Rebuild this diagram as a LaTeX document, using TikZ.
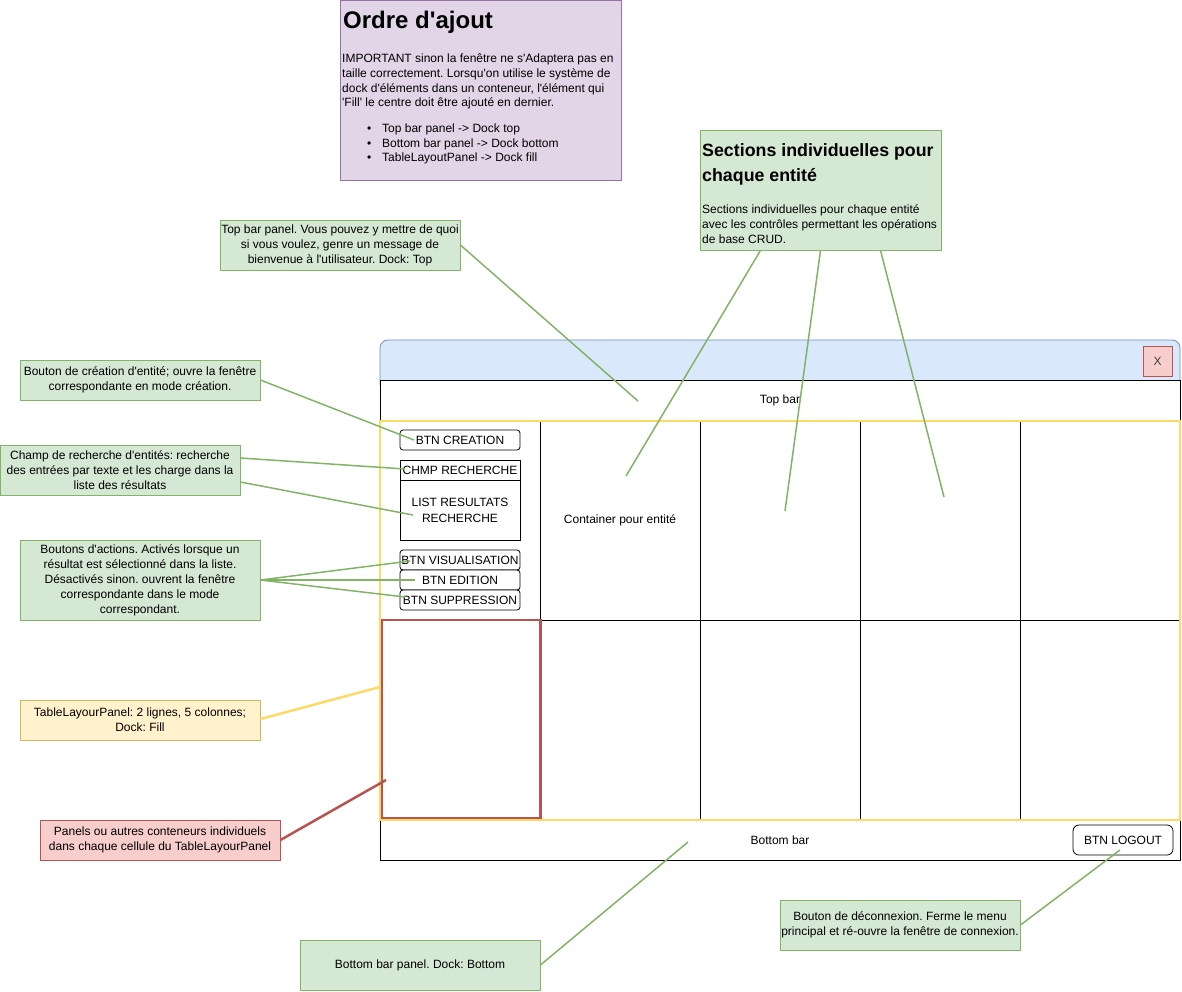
\documentclass[tikz,border=0pt]{standalone}
\usepackage{fontspec}
\setmainfont{Liberation Sans}[Ligatures=TeXOff]
\frenchspacing
\definecolor{gF}{HTML}{D5E8D4}\definecolor{gS}{HTML}{82B366}
\definecolor{pF}{HTML}{E1D5E7}\definecolor{pS}{HTML}{9673A6}
\definecolor{yF}{HTML}{FFF2CC}\definecolor{yS}{HTML}{D6B656}
\definecolor{rF}{HTML}{F8CECC}\definecolor{rS}{HTML}{B85450}
\definecolor{bF}{HTML}{DAE8FC}\definecolor{bS}{HTML}{6C8EBF}
\definecolor{tY}{HTML}{FFD966}
\begin{document}
\frenchspacing
\begin{tikzpicture}[x=1pt,y=-1pt,font=\fontsize{12}{15}\selectfont,
  note/.style={draw=gS,fill=gF,align=center,inner sep=0pt,line width=0.8pt},
  ynote/.style={note,draw=yS,fill=yF},
  rnote/.style={note,draw=rS,fill=rF},
  conn/.style={draw=gS,line width=1.5pt},
  btn/.style={draw=black,fill=white,rounded corners=3pt,minimum width=120pt,minimum height=20pt,inner sep=0pt,line width=0.8pt},
  plainbox/.style={draw=black,fill=white,minimum width=120pt,inner sep=0pt,line width=0.8pt,align=center},
  lbl/.style={inner sep=0pt}
]
\useasboundingbox (0,0) rectangle (1182,991);

% ---------- purple note ----------
\node[draw=pS,fill=pF,line width=0.8pt,minimum width=281pt,minimum height=180pt,inner sep=0pt] (ordBox) at (480.5,90.5) {};
\node[lbl,anchor=base west,font=\bfseries\fontsize{24}{29}\selectfont] (ordTitle) at (343,28) {Ordre d'ajout};
\node[lbl,anchor=north west,align=left,font=\fontsize{12}{14.7}\selectfont] (ordBody) at (342,51.5)
 {\rule{0pt}{11pt}IMPORTANT sinon la fenêtre ne s'Adaptera pas en\\taille correctement. Lorsqu'on utilise le système de\\dock d'éléments dans un conteneur, l'élément qui\\'Fill' le centre doit être ajouté en dernier.};
\node[lbl,anchor=north west,align=left,font=\fontsize{12}{14.5}\selectfont] (ordList) at (367,121.5)
 {\rule{0pt}{11pt}\makebox[15pt][l]{\textbullet}Top bar panel -> Dock top\\\makebox[15pt][l]{\textbullet}Bottom bar panel -> Dock bottom\\\makebox[15pt][l]{\textbullet}TableLayoutPanel -> Dock fill};

% ---------- sections note ----------
\node[note,minimum width=241pt,minimum height=120pt] (nSec) at (820.5,190) {};
\node[lbl,anchor=north west,align=left,font=\bfseries\fontsize{17.8}{25}\selectfont] (secTitle) at (702,139)
 {\rule{0pt}{17.5pt}Sections individuelles pour\\chaque entité};
\node[lbl,anchor=north west,align=left,font=\fontsize{12}{14.7}\selectfont] (secBody) at (702,202.5)
 {\rule{0pt}{11pt}Sections individuelles pour chaque entité\\avec les contrôles permettant les opérations\\de base CRUD.};

% ---------- window ----------
\filldraw[fill=bF,draw=bS,line width=0.8pt,rounded corners=8pt] (380,340) rectangle (1180,392);
\node[draw=rS,fill=rF,minimum width=29pt,minimum height=30pt,inner sep=0pt,line width=0.8pt,text=black!75] (btnX) at (1157.5,361) {X};
\node[draw=black,fill=white,minimum width=800pt,minimum height=40pt,inner sep=0pt,line width=0.8pt] (topBar) at (780,400) {};
\node[lbl] (topBarTxt) at (780,400) {Top bar};
\node[draw=black,fill=white,minimum width=800pt,minimum height=40pt,inner sep=0pt,line width=0.8pt] (botBar) at (780,840) {};
\node[lbl] (botBarTxt) at (780,840) {Bottom bar};
\node[draw=black,fill=white,rounded corners=6pt,minimum width=100pt,minimum height=30pt,inner sep=0pt,line width=0.8pt] (btnLogout) at (1123,840) {BTN LOGOUT};

% table grid
\fill[white] (380,420) rectangle (1180,820);
\draw[black,line width=0.8pt] (540,420) -- (540,820) (700,420) -- (700,820) (860,420) -- (860,820) (1020,420) -- (1020,820) (380,620) -- (1180,620);
\draw[rS,line width=2.5pt] (382,620) rectangle (540.5,818);
\draw[tY,line width=2.5pt] (380,421) rectangle (1180,820);
\node[lbl] (container) at (620,520) {Container pour entité};

% left column controls
\node[btn] (bCreate) at (460,440) {BTN CREATION};
\node[plainbox,minimum height=20pt] (bChmp) at (460,470) {CHMP RECHERCHE};
\node[plainbox,minimum height=60pt] (bList) at (460,510) {LIST RESULTATS\\[1pt]RECHERCHE};
\node[btn] (bVis) at (460,560) {BTN VISUALISATION};
\node[btn] (bEdit) at (460,580) {BTN EDITION};
\node[btn] (bSupp) at (460,600) {BTN SUPPRESSION};

% ---------- notes ----------
\node[note,minimum width=240pt,minimum height=50pt] (nTop) at (340,245) {Top bar panel. Vous pouvez y mettre de quoi\\si vous voulez, genre un message de\\bienvenue à l'utilisateur. Dock: Top};
\node[note,minimum width=240pt,minimum height=40pt] (nCreate) at (140,380) {Bouton de création d'entité; ouvre la fenêtre\\correspondante en mode création.};
\node[note,minimum width=240pt,minimum height=50pt] (nChamp) at (120,470) {Champ de recherche d'entités: recherche\\des entrées par texte et les charge dans la\\liste des résultats};
\node[note,minimum width=240pt,minimum height=80pt] (nAct) at (140,580) {Boutons d'actions. Activés lorsque un\\résultat est sélectionné dans la liste.\\Désactivés sinon. ouvrent la fenêtre\\correspondante dans le mode\\correspondant.};
\node[ynote,minimum width=240pt,minimum height=40pt] (nTLP) at (140,720) {TableLayourPanel: 2 lignes, 5 colonnes;\\Dock: Fill};
\node[rnote,minimum width=240pt,minimum height=40pt] (nPanels) at (160,840) {Panels ou autres conteneurs individuels\\dans chaque cellule du TableLayourPanel};
\node[note,minimum width=240pt,minimum height=50pt] (nBottom) at (420,965) {Bottom bar panel. Dock: Bottom};
\node[note,minimum width=240pt,minimum height=50pt] (nLogout) at (900,925) {Bouton de déconnexion. Ferme le menu\\principal et ré-ouvre la fenêtre de connexion.};

% ---------- connector ends ----------
\coordinate (eTop) at (638,401);
\coordinate (eSec1) at (626,476);
\coordinate (eSec2) at (785,511);
\coordinate (eSec3) at (944,497);
\coordinate (eCreate) at (414,440);
\coordinate (eChmp) at (405,469);
\coordinate (eList) at (413,515);
\coordinate (eVis) at (410,561);
\coordinate (eEdit) at (415,580);
\coordinate (eSupp) at (405,597);
\coordinate (eTLP) at (380,687);
\coordinate (ePanels) at (386,780);
\coordinate (eBottom) at (688,842);
\coordinate (eLogout) at (1120,850);

% ---------- connectors ----------
\draw[conn] (nTop.east) -- (eTop);
\draw[conn] ([xshift=-60pt]nSec.south) -- (eSec1);
\draw[conn] (nSec.south) -- (eSec2);
\draw[conn] ([xshift=60pt]nSec.south) -- (eSec3);
\draw[conn] (nCreate.east) -- (eCreate);
\draw[conn] ([yshift=12pt]nChamp.east) -- (eChmp);
\draw[conn] ([yshift=-12pt]nChamp.east) -- (eList);
\draw[conn] (nAct.east) -- (eVis);
\draw[conn] (nAct.east) -- (eEdit);
\draw[conn] (nAct.east) -- (eSupp);
\draw[draw=tY,line width=2.5pt] ([yshift=1pt]nTLP.east) -- (eTLP);
\draw[draw=rS,line width=2.5pt] (nPanels.east) -- (ePanels);
\draw[conn] (nBottom.east) -- (eBottom);
\draw[conn] (nLogout.east) -- (eLogout);
\end{tikzpicture}
\end{document}
